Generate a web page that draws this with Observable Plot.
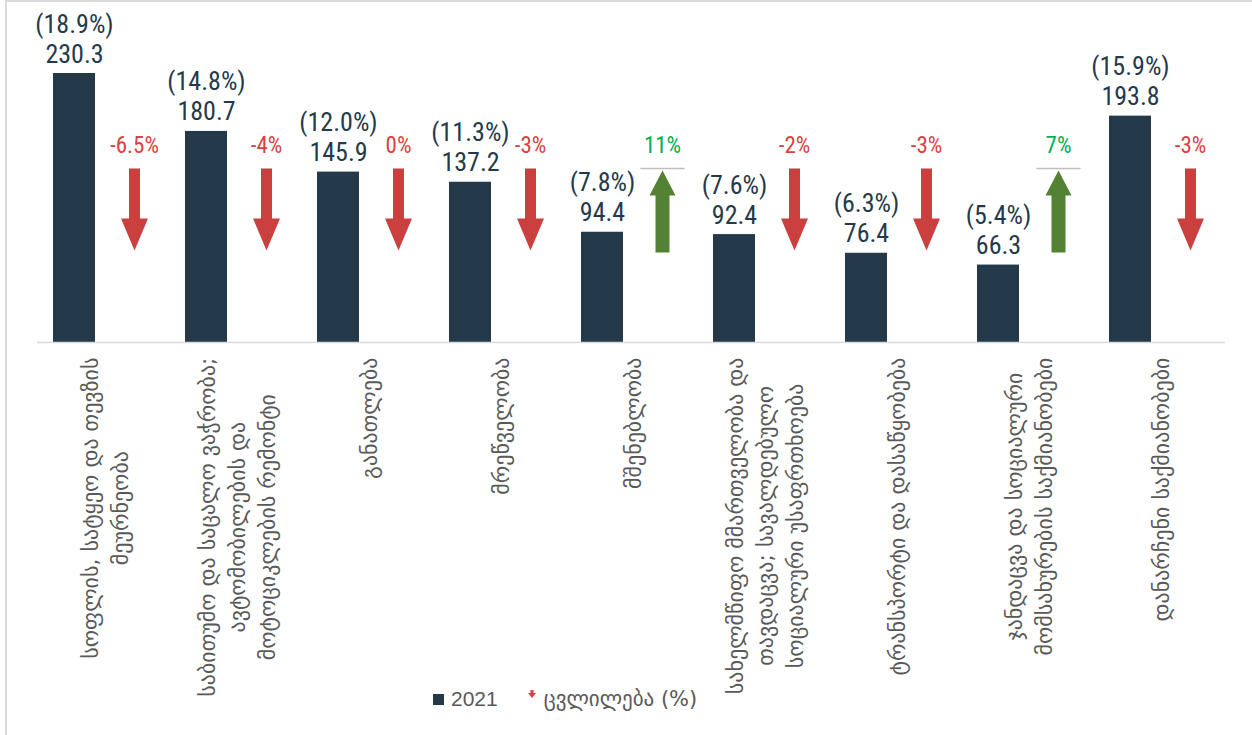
<!DOCTYPE html>
<html>
<head>
<meta charset="utf-8">
<script src="https://cdn.jsdelivr.net/npm/d3@7"></script>
<script src="https://cdn.jsdelivr.net/npm/@observablehq/plot@0.6"></script>
<style>
  html, body { margin: 0; padding: 0; background: #fff; }
  body { width: 1252px; height: 735px; overflow: hidden; position: relative; }
  #frame { position: absolute; left: 5px; top: 0; width: 1400px; height: 900px;
           border-top: 2px solid #dadada; border-left: 2px solid #dadada; }
  #chart { position: absolute; left: 0; top: 0; }
  #legend { position: absolute; left: 433px; top: 684px; height: 30px; display: flex; align-items: center;
            font-family: "Liberation Sans", "DejaVu Sans", sans-serif; font-size: 21px; color: #595959; }
  #legend .sw { width: 11px; height: 11px; background: #243a4b; margin-right: 7px; }
  #legend .geo { font-family: "DejaVu Sans", sans-serif; font-size: 21px; }
  #legend .mk { margin-left: 30px; margin-right: 8px; margin-top: -10px; }
</style>
</head>
<body>
<div id="frame"></div>
<div id="chart"></div>
<div id="legend"><span class="sw"></span><span>2021</span><svg class="mk" width="8" height="8"><path d="M2.5,0H5.5V3H8L4,8L0,3H2.5Z" fill="#d94343"/></svg><span class="geo">ცვლილება (%)</span></div>
<script>
const categories = [
  "სოფლის, სატყეო და თევზის მეურნეობა",
  "საბითუმო და საცალო ვაჭრობა; ავტომობილების და მოტოციკლების რემონტი",
  "განათლება",
  "მრეწველობა",
  "მშენებლობა",
  "სახელმწიფო მმართველობა და თავდაცვა; სავალდებულო სოციალური უსაფრთხოება",
  "ტრანსპორტი და დასაწყობება",
  "ჯანდაცვა და სოციალური მომსახურების საქმიანობები",
  "დანარჩენი საქმიანობები"
];
const tickLabels = [
  "სოფლის, სატყეო და თევზის\nმეურნეობა",
  "საბითუმო და საცალო ვაჭრობა;\nავტომობილების და\nმოტოციკლების რემონტი",
  "განათლება",
  "მრეწველობა",
  "მშენებლობა",
  "სახელმწიფო მმართველობა და\nთავდაცვა; სავალდებულო\nსოციალური უსაფრთხოება",
  "ტრანსპორტი და დასაწყობება",
  "ჯანდაცვა და სოციალური\nმომსახურების საქმიანობები",
  "დანარჩენი საქმიანობები"
];
const values2021 = [230.3, 180.7, 145.9, 137.2, 94.4, 92.4, 76.4, 66.3, 193.8];
const shares = ["18.9%", "14.8%", "12.0%", "11.3%", "7.8%", "7.6%", "6.3%", "5.4%", "15.9%"];
const changes = [-6.5, -4, 0, -3, 11, -2, -3, 7, -3];

const data = categories.map((c, i) => ({
  cat: c, label: tickLabels[i], value: values2021[i], share: shares[i], change: changes[i]
}));
const down = data.filter(d => d.change <= 0);
const up = data.filter(d => d.change > 0);

const NAVY = "#243a4b", RED = "#c9403f", REDTXT = "#dc4141", GREEN = "#548235", GREENTXT = "#00b050";
const numFont = "'Liberation Sans Narrow', 'Roboto Condensed', 'Arial Narrow', Roboto, sans-serif";
const geoFont = "DejaVu Sans";
const geoSize = 22;

function blockArrow(shaftW, headW, headL) {
  return {
    draw(ctx, l) {
      ctx.moveTo(-shaftW / 2, 0);
      ctx.lineTo(-shaftW / 2, -(l - headL));
      ctx.lineTo(-headW / 2, -(l - headL));
      ctx.lineTo(0, -l);
      ctx.lineTo(headW / 2, -(l - headL));
      ctx.lineTo(shaftW / 2, -(l - headL));
      ctx.lineTo(shaftW / 2, 0);
      ctx.closePath();
    }
  };
}
const lineShape = { draw(ctx, l) { ctx.moveTo(0, 0); ctx.lineTo(0, -l); } };

// measure label lines to align the top of each rotated block
const cv = document.createElement("canvas").getContext("2d");
cv.font = `${geoSize}px "${geoFont}"`;
const labelMarks = data.map(d => {
  const L = d3.max(d.label.split("\n"), s => cv.measureText(s).width);
  return Plot.text([d], {
    x: "cat", text: "label", frameAnchor: "bottom", rotate: -90,
    textAnchor: "middle", lineAnchor: "middle", lineHeight: 30 / geoSize,
    dy: 15 + L / 2, fill: "#595959", fontSize: geoSize, fontFamily: geoFont
  });
});

const chart = Plot.plot({
  width: 1252, height: 680,
  marginLeft: 37, marginRight: 27, marginTop: 50, marginBottom: 338,
  x: { domain: categories, padding: 0, axis: null },
  y: { domain: [0, 250], axis: null },
  style: { background: "transparent", overflow: "visible" },
  marks: [
    Plot.barY(data, { x: "cat", y: "value", fill: NAVY, insetLeft: 16, insetRight: 74 }),
    Plot.ruleY([0], { stroke: "#d9d9d9", strokeWidth: 1.5 }),
    Plot.text(data, {
      x: "cat", y: "value", text: d => `(${d.share})\n${d.value.toFixed(1)}`,
      dx: -29, dy: -11, lineAnchor: "bottom", lineHeight: 30 / 26,
      fill: NAVY, fontSize: 26, fontFamily: numFont
    }),
    Plot.text(down, {
      x: "cat", frameAnchor: "top", text: d => `${d.change}%`, dx: 31, dy: 102,
      lineAnchor: "bottom", fill: REDTXT, fontSize: 23, fontFamily: numFont
    }),
    Plot.text(up, {
      x: "cat", frameAnchor: "top", text: d => `${d.change}%`, dx: 31, dy: 102,
      lineAnchor: "bottom", fill: GREENTXT, fontSize: 23, fontFamily: numFont
    }),
    Plot.vector(down, {
      x: "cat", frameAnchor: "top", dx: 31, dy: 118, length: 82, rotate: 180, anchor: "start",
      shape: blockArrow(11, 27, 32), fill: RED, stroke: "none"
    }),
    Plot.vector(up, {
      x: "cat", frameAnchor: "top", dx: 31, dy: 120, length: 82, rotate: 0, anchor: "end",
      shape: blockArrow(14, 26, 25), fill: GREEN, stroke: "none"
    }),
    Plot.vector(up, {
      x: "cat", frameAnchor: "top", dx: 31, dy: 118, length: 43, rotate: 90, anchor: "middle",
      shape: lineShape, stroke: "#bfbfbf", strokeWidth: 1.5
    }),
    ...labelMarks
  ]
});
document.getElementById("chart").appendChild(chart);
</script>
</body>
</html>
